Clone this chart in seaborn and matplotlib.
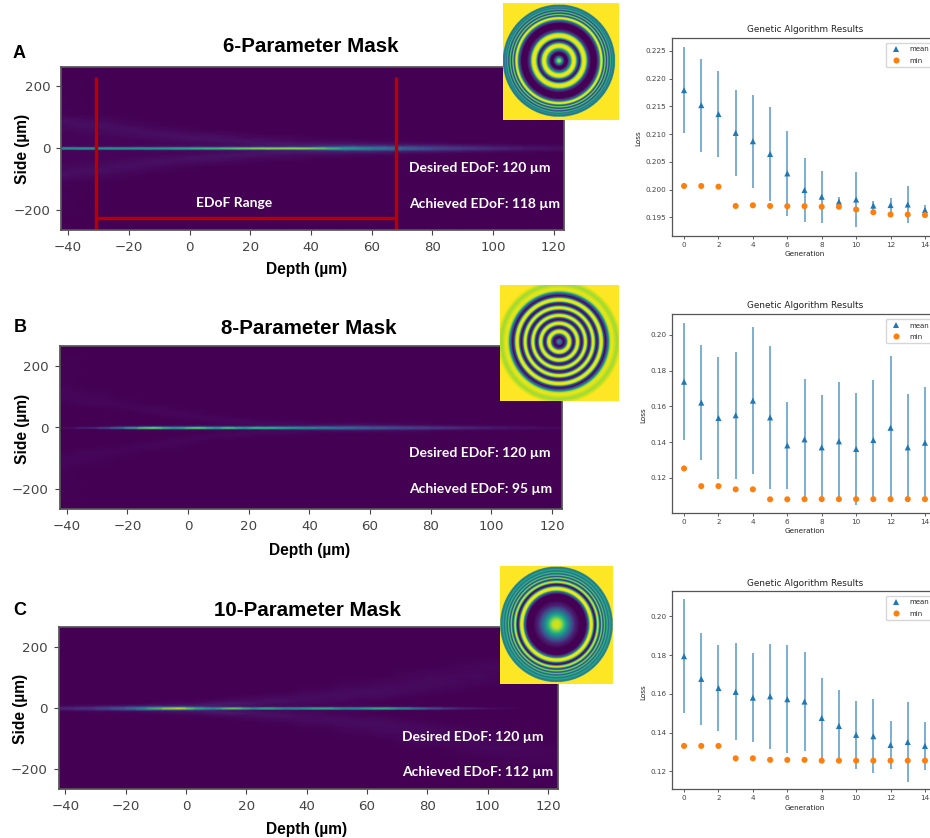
import numpy as np
import pandas as pd
import matplotlib
matplotlib.use('Agg')
import matplotlib.pyplot as plt
import seaborn as sns

W, H = 930, 838

# genetic algorithm curves
generation = list(range(15))

mean_a = [.2179, .2152, .2136, .2102, .2087, .2064, .2029, .1999, .1987, .1978, .1982, .1971, .1972, .1973, .1963]
std_a = [.0078, .0084, .0078, .0077, .0084, .0085, .0077, .0058, .0047, .0009, .0050, .0009, .0013, .0033, .0009]
min_a = [.20064, .20064, .20052, .19704, .19716, .19704, .1970, .1970, .1969, .1969, .1964, .1959, .1955, .1955, .1954]

mean_b = [.1738, .1621, .1535, .1550, .1632, .1538, .1381, .1415, .1370, .1404, .1361, .1411, .1480, .1370, .1396]
std_b = [.0327, .0323, .0340, .0355, .0411, .0400, .0243, .0336, .0292, .0331, .0316, .0337, .0404, .0297, .0311]
min_b = [.1252, .1153, .1153, .1135, .1135, .1079, .1079, .1080, .1080, .1080, .1080, .1080, .1080, .1080, .1080]

mean_c = [.1794, .1677, .1630, .1610, .1580, .1587, .1572, .1560, .1475, .1434, .1388, .1381, .1336, .1351, .1331]
std_c = [.0294, .0239, .0220, .0251, .0231, .0272, .0278, .0256, .0207, .0188, .0177, .0191, .0124, .0207, .0124]
min_c = [.1331, .1331, .1331, .1267, .1267, .1259, .1259, .1259, .1255, .1255, .1255, .1255, .1255, .1255, .1255]

# beam intensity, rows are side offset (upper half, mirrored later), columns depth
side_a = [0, 1.5, 3.5, 6, 10, 16, 24, 34, 46, 60, 75, 90, 110, 265]
depth_a = [-44, -30, -20, -10, 0, 10, 20, 30, 40, 50, 60, 70, 80, 90, 100, 110, 125]
core_a = [.50, .52, .52, .55, .62, .68, .78, .82, .80, .58, .42, .32, .22, .16, .11, .07, .03]
beam_a = [
    core_a,
    core_a,
    [.30, .31, .31, .33, .38, .42, .50, .54, .54, .48, .36, .27, .18, .13, .09, .05, .03],
    [.04, .04, .05, .06, .07, .08, .10, .12, .16, .25, .24, .20, .14, .10, .07, .04, .02],
    [.01, .01, .01, .02, .02, .03, .04, .06, .08, .10, .10, .08, .07, .05, .03, .02, .01],
    [.01, .01, .01, .01, .02, .03, .05, .06, .05, .05, .04, .03, .02, .01, .01, 0, 0],
    [.01, .01, .01, .02, .03, .05, .05, .03, .02, .02, .01, .01, 0, 0, 0, 0, 0],
    [.01, .01, .02, .03, .05, .04, .02, .02, .01, 0, 0, 0, 0, 0, 0, 0, 0],
    [.01, .02, .03, .04, .03, .02, .01, 0, 0, 0, 0, 0, 0, 0, 0, 0, 0],
    [.02, .03, .04, .02, .01, 0, 0, 0, 0, 0, 0, 0, 0, 0, 0, 0, 0],
    [.03, .04, .02, .01, 0, 0, 0, 0, 0, 0, 0, 0, 0, 0, 0, 0, 0],
    [.04, .02, .01, 0, 0, 0, 0, 0, 0, 0, 0, 0, 0, 0, 0, 0, 0],
    [.01, 0, 0, 0, 0, 0, 0, 0, 0, 0, 0, 0, 0, 0, 0, 0, 0],
    [0, 0, 0, 0, 0, 0, 0, 0, 0, 0, 0, 0, 0, 0, 0, 0, 0],
]

side_b = [0, 1.5, 3.5, 6, 10, 16, 24, 34, 46, 60, 80, 105, 135, 265]
depth_b = [-44, -30, -21, -12, -5, 3, 9, 13, 18, 22, 28, 34, 42, 55, 65, 75, 85, 95, 105, 125]
core_b = [.01, .12, .38, .78, .48, .75, .52, .70, .52, .65, .62, .52, .44, .32, .24, .18, .13, .09, .05, .02]
beam_b = [
    core_b,
    core_b,
    [0, .05, .22, .46, .32, .44, .34, .42, .34, .40, .40, .36, .32, .26, .20, .15, .11, .07, .04, .01],
    [0, 0, .02, .05, .04, .05, .05, .05, .05, .06, .07, .08, .10, .12, .10, .08, .05, .03, .02, 0],
    [0, 0, 0, 0, 0, .01, .01, .01, .01, .02, .02, .02, .03, .04, .03, .02, .01, .01, 0, 0],
    [0, 0, 0, 0, 0, 0, .01, .01, .02, .02, .02, .02, .01, .01, .01, .01, 0, 0, 0, 0],
    [0, 0, 0, 0, 0, .01, .02, .02, .02, .01, .01, .01, 0, 0, 0, 0, 0, 0, 0, 0],
    [0, 0, 0, 0, .01, .02, .01, .01, 0, 0, 0, 0, 0, 0, 0, 0, 0, 0, 0, 0],
    [0, 0, 0, .01, .02, .01, 0, 0, 0, 0, 0, 0, 0, 0, 0, 0, 0, 0, 0, 0],
    [0, 0, .01, .02, .01, 0, 0, 0, 0, 0, 0, 0, 0, 0, 0, 0, 0, 0, 0, 0],
    [0, .02, .01, 0, 0, 0, 0, 0, 0, 0, 0, 0, 0, 0, 0, 0, 0, 0, 0, 0],
    [.02, .01, 0, 0, 0, 0, 0, 0, 0, 0, 0, 0, 0, 0, 0, 0, 0, 0, 0, 0],
    [.01, 0, 0, 0, 0, 0, 0, 0, 0, 0, 0, 0, 0, 0, 0, 0, 0, 0, 0, 0],
    [0, 0, 0, 0, 0, 0, 0, 0, 0, 0, 0, 0, 0, 0, 0, 0, 0, 0, 0, 0],
]

side_c = [0, 1.5, 3.5, 6, 10, 16, 24, 34, 46, 60, 80, 105, 135, 170, 265]
depth_c = [-44, -30, -20, -13, -3, 3, 9, 15, 22, 26, 33, 38, 46, 52, 58, 65, 70, 80, 90, 100, 110, 125]
core_c = [.08, .16, .30, .52, .92, .64, .44, .76, .46, .62, .46, .52, .64, .46, .52, .66, .52, .26, .10, .04, .01, 0]
beam_c = [
    core_c,
    core_c,
    [.06, .14, .24, .42, .66, .44, .30, .46, .28, .36, .28, .30, .36, .28, .30, .38, .30, .15, .06, .02, 0, 0],
    [.03, .08, .13, .18, .22, .16, .10, .09, .05, .05, .04, .04, .04, .04, .04, .04, .03, .02, .01, 0, 0, 0],
    [.01, .02, .03, .04, .05, .06, .08, .05, .04, .03, .02, .02, .01, .01, .01, .01, 0, 0, 0, 0, 0, 0],
    [0, 0, 0, .01, .03, .03, .05, .07, .05, .04, .03, .02, .02, .01, .01, 0, 0, 0, 0, 0, 0, 0],
    [0, 0, 0, 0, .01, .01, .02, .03, .03, .04, .04, .03, .02, .02, .01, .01, 0, 0, 0, 0, 0, 0],
    [0, 0, 0, 0, 0, 0, 0, .01, .02, .02, .03, .03, .03, .03, .02, .02, .01, 0, 0, 0, 0, 0],
    [0, 0, 0, 0, 0, 0, 0, 0, 0, .01, .01, .02, .03, .03, .03, .03, .02, .01, 0, 0, 0, 0],
    [0, 0, 0, 0, 0, 0, 0, 0, 0, 0, 0, .01, .01, .02, .03, .03, .03, .02, .01, 0, 0, 0],
    [0, 0, 0, 0, 0, 0, 0, 0, 0, 0, 0, 0, 0, .01, .01, .02, .02, .03, .02, .01, 0, 0],
    [0, 0, 0, 0, 0, 0, 0, 0, 0, 0, 0, 0, 0, 0, 0, 0, .01, .02, .02, .02, .01, 0],
    [0, 0, 0, 0, 0, 0, 0, 0, 0, 0, 0, 0, 0, 0, 0, 0, 0, 0, .01, .02, .02, .01],
    [0, 0, 0, 0, 0, 0, 0, 0, 0, 0, 0, 0, 0, 0, 0, 0, 0, 0, 0, 0, .01, .01],
    [0, 0, 0, 0, 0, 0, 0, 0, 0, 0, 0, 0, 0, 0, 0, 0, 0, 0, 0, 0, 0, 0],
]

# mask radial profiles, radius in zoomed px and viridis level
mask_r_a = [0, 5, 11, 17, 25, 33, 40, 45, 50, 56, 62, 69, 75, 81, 87, 96, 112, 120, 125, 129, 134, 138, 142, 146, 150, 154, 157, 160, 163, 168]
mask_v_a = [.85, .8, .35, 0, 0, .4, .95, 1, .9, .2, 0, .9, 1, .9, .2, 0, 0, .3, .95, 1, .1, .95, .05, .85, .1, .75, .3, .6, .35, .5]
mask_r_b = [0, 5, 11, 15, 21, 26, 30, 35, 39, 43, 47, 51, 55, 59, 63, 67, 71, 75, 78, 82, 86, 90, 94, 98, 101, 105, 109, 113, 117, 121, 125, 130, 134, 139, 146, 152, 158, 172, 185]
mask_v_b = [.5, .4, .05, 0, .2, .9, 1, .9, .2, 0, .2, .9, 1, .9, .2, 0, .2, .9, 1, .9, .2, 0, .2, .9, 1, .9, .2, 0, .2, .9, 1, .9, .2, 0, .4, .9, .98, .85, 1]
mask_r_c = [0, 12, 25, 40, 55, 70, 88, 95, 100, 104, 108, 113, 117, 121, 124, 127, 130, 135, 139, 143, 147, 151, 155, 159, 163, 168]
mask_v_c = [.95, .9, .65, .35, .1, 0, 0, .3, .95, 1, .9, .1, 0, .8, 1, .6, .05, .95, .1, .85, .2, .75, .3, .65, .4, .48]

depth_ticks = [-40, -20, 0, 20, 40, 60, 80, 100, 120]
side_ticks = [-200, 0, 200]
edof_left, edof_right = -30.7, 68.1

sns.set_theme(style='ticks')
plt.rcParams['font.family'] = ['DejaVu Sans']
plt.rcParams['axes.edgecolor'] = '#555555'
plt.rcParams['xtick.color'] = '#444444'
plt.rcParams['ytick.color'] = '#444444'

fig = plt.figure(figsize=(W / 100, H / 100), dpi=100, facecolor='white')


def px_axes(x0, y0, x1, y1):
    return fig.add_axes([x0 / W, 1 - y1 / H, (x1 - x0) / W, (y1 - y0) / H])


def px_text(x, y, s, **kw):
    kw.setdefault('ha', 'center')
    kw.setdefault('va', 'center')
    fig.text(x / W, 1 - y / H, s, **kw)


def draw_beam(box, depth, side, beam):
    ax = px_axes(*box)
    z = np.array(beam)
    full_side = np.r_[-np.array(side)[::-1], side[1:]]
    full_z = np.vstack([z[::-1], z[1:]])
    ax.pcolormesh(depth, full_side, full_z, shading='gouraud', cmap='viridis', vmin=0, vmax=1)
    ax.set_xlim(-42.2, 123.3)
    ax.set_ylim(-265, 265)
    ax.set_xticks(depth_ticks)
    ax.set_yticks(side_ticks)
    ax.tick_params(labelsize=9.6, length=3.5, width=.8, pad=4.5)
    return ax


def draw_mask(box, limits, r, v):
    ax = px_axes(*box)
    ax.set_zorder(5)
    x0, x1, y0, y1 = limits
    xx, yy = np.meshgrid(np.arange(x0, x1, 1.0), np.arange(y0, y1, 1.0))
    level = np.interp(np.hypot(xx, yy), r, v, right=1.0)
    ax.imshow(level, extent=limits, origin='lower', cmap='viridis', vmin=0, vmax=1, aspect='auto')
    ax.set_xticks([])
    ax.set_yticks([])
    for s in ax.spines.values():
        s.set_visible(False)


def draw_ga(box, ylim, yticks, mean, std, low):
    ax = px_axes(*box)
    colors = sns.color_palette('tab10')
    df = pd.DataFrame({
        'generation': generation * 2,
        'loss': mean + low,
        'series': ['mean'] * 15 + ['min'] * 15,
    })
    ax.errorbar(generation, mean, yerr=std, fmt='none', ecolor=colors[0], elinewidth=1.1, alpha=.75)
    sns.scatterplot(data=df, x='generation', y='loss', hue='series', style='series',
                    markers={'mean': '^', 'min': 'o'}, palette=[colors[0], colors[1]],
                    s=19, edgecolor='none', ax=ax, zorder=3)
    ax.set_xlim(-.7, 14.7)
    ax.set_ylim(*ylim)
    ax.set_xticks(range(0, 15, 2))
    ax.set_yticks(yticks)
    ax.set_yticklabels(['%.3f' % t if ylim[0] > .15 else '%.2f' % t for t in yticks])
    ax.tick_params(labelsize=5.2, length=2.2, width=.6, pad=2)
    ax.set_xlabel('')
    ax.set_ylabel('')
    for s in ax.spines.values():
        s.set_linewidth(.9)
    handles, labels = ax.get_legend_handles_labels()
    ax.legend(handles, labels, loc='upper right', fontsize=5, markerscale=1, frameon=True,
              borderaxespad=.7, labelspacing=.75, handletextpad=.8, borderpad=.5)
    return ax


# panel A
ax = draw_beam((61.4, 66.5, 563.8, 229.5), depth_a, side_a, beam_a)
red = '#B80000'
ax.plot([edof_left, edof_left], [-265, 230], color=red, lw=2.4, solid_capstyle='butt')
ax.plot([edof_right, edof_right], [-265, 230], color=red, lw=2.4, solid_capstyle='butt')
ax.plot([edof_left, edof_right], [-226, -226], color=red, lw=2.4)
draw_mask((502.7, 3.3, 618.3, 120), (-167, 180, -177, 173), mask_r_a, mask_v_a)
draw_ga((672, 38, 937, 236), (.19163, .2273), [.195, .200, .205, .210, .215, .220, .225], mean_a, std_a, min_a)

# panel B
draw_beam((60, 346, 562, 509), depth_b, side_b, beam_b)
draw_mask((499.7, 284.7, 618, 401.3), (-176, 179, -177, 173), mask_r_b, mask_v_b)
draw_ga((672, 314.3, 937, 512.7), (.1004, .2116), [.12, .14, .16, .18, .20], mean_b, std_b, min_b)

# panel C
draw_beam((58.6, 627, 558, 789), depth_c, side_c, beam_c)
draw_mask((499.7, 566, 612, 684), (-168, 169, -173, 173), mask_r_c, mask_v_c)
draw_ga((672, 591, 937, 789.3), (.1107, .2131), [.12, .14, .16, .18, .20], mean_c, std_c, min_c)

# text, placed by reference pixel
head = dict(family='Liberation Sans', fontweight='bold', color='black')
for x, y, s in [(311, 47, '6-Parameter Mask'), (309, 328, '8-Parameter Mask'), (307.5, 610, '10-Parameter Mask')]:
    px_text(x, y, s, fontsize=14.8, **head)
for x, y, s in [(19, 53, 'A'), (20, 327, 'B'), (20, 610, 'C')]:
    px_text(x, y, s, fontsize=13, **head)
for x, y in [(307, 269.5), (310, 550), (307, 829)]:
    px_text(x, y, 'Depth (µm)', fontsize=11.2, **head)
for x, y in [(22.6, 149), (22.6, 429), (20, 709)]:
    px_text(x, y, 'Side (µm)', fontsize=11.2, rotation=90, **head)

note = dict(family='Lato', fontweight='bold', color='white', fontsize=10, ha='left')
for x, y, s in [(409, 168, 'Desired EDoF: 120 µm'), (409, 204, 'Achieved EDoF: 118 µm'),
                (409, 453, 'Desired EDoF: 120 µm'), (409, 489, 'Achieved EDoF: 95 µm'),
                (402, 736.5, 'Desired EDoF: 120 µm'), (402, 772, 'Achieved EDoF: 112 µm')]:
    px_text(x, y, s, **note)
px_text(234, 203, 'EDoF Range', family='Lato', fontweight='bold', color='white', fontsize=10)

for y in [30, 306, 583]:
    px_text(804.7, y, 'Genetic Algorithm Results', fontsize=6.4, color='#222222')
for y in [254, 531, 808]:
    px_text(804.7, y, 'Generation', fontsize=5.2, color='#222222')
for x, y in [(638, 138), (643, 415), (643, 692)]:
    px_text(x, y, 'Loss', fontsize=5.2, rotation=90, color='#222222')

fig.savefig('out.png', dpi=100)
